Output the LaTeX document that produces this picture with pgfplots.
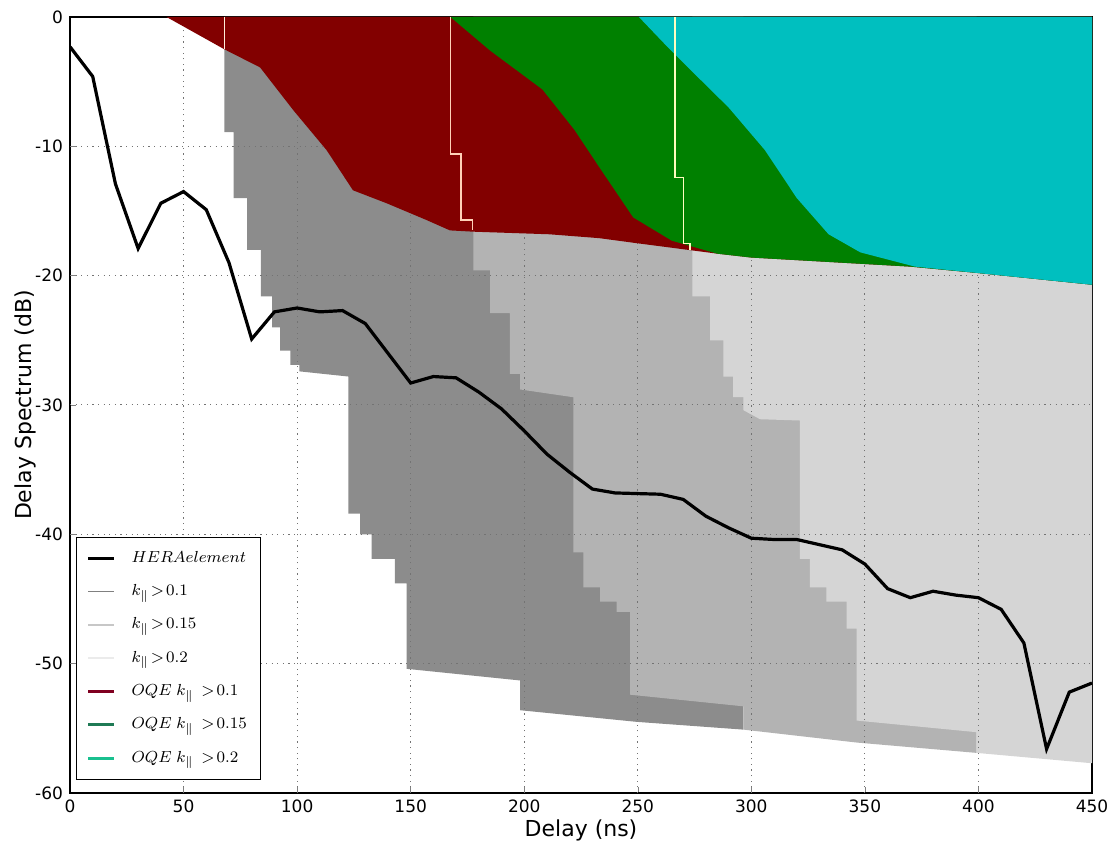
\documentclass[border=0pt]{standalone}
\usepackage{fontspec}
\setmainfont{DejaVu Sans}
\usepackage{pgfplots}
\pgfplotsset{compat=1.18}
\definecolor{gdark}{HTML}{8C8C8C}
\definecolor{gmid}{HTML}{B3B3B3}
\definecolor{glight}{HTML}{D5D5D5}
\definecolor{oqered}{HTML}{820000}
\definecolor{oqegreen}{HTML}{008000}
\definecolor{oqecyan}{HTML}{00BFBF}
\definecolor{legred}{HTML}{800020}
\definecolor{leggreen}{HTML}{1F7A55}
\definecolor{legcyan}{HTML}{19C08F}
\begin{document}
\begin{tikzpicture}
\begin{axis}[
  name=ax,
  width=511pt, height=388pt, scale only axis,
  xmin=0, xmax=450, ymin=-60, ymax=0,
  xtick={0,50,100,150,200,250,300,350,400,450},
  xticklabels={0,50,100,150,200,250,300,350,400,450},
  ytick={-60,-50,-40,-30,-20,-10,0},
  yticklabels={-60,-50,-40,-30,-20,-10,0},
  tick label style={font=\fontsize{8.5}{10}\selectfont},
  tick align=inside, major tick length=3pt,
  axis line style={line width=0.8pt},
  xlabel={Delay (ns)}, ylabel={Delay Spectrum (dB)},
  label style={font=\fontsize{11}{13}\selectfont},
  xlabel style={at={(axis description cs:0.5,-0.0477)}, anchor=center},
  ylabel style={at={(axis description cs:-0.044,0.5)}, anchor=center},
  legend style={at={(axis description cs:0.006,0.017)}, anchor=south west,
    draw=black, line width=0.6pt, fill=white,
    font=\fontsize{8.5}{10}\selectfont, row sep=5.6pt, inner xsep=5pt, inner ysep=5pt,
    /tikz/every odd column/.append style={column sep=6pt}},
  legend cell align=left,
  legend image code/.code={\draw[#1] (0cm,0cm) -- (0.45cm,0cm);},
]
% legend entries
\addlegendimage{black, line width=1.6pt}
\addlegendentry{$HERA element$}
\addlegendimage{gray, line width=0.8pt}
\addlegendentry{$k_{\parallel}\!>\!0.1$}
\addlegendimage{black!22, line width=0.8pt}
\addlegendentry{$k_{\parallel}\!>\!0.15$}
\addlegendimage{black!8, line width=0.8pt}
\addlegendentry{$k_{\parallel}\!>\!0.2$}
\addlegendimage{legred, line width=1.6pt}
\addlegendentry{$OQE\;k_{\parallel}\,>\!0.1$}
\addlegendimage{leggreen, line width=1.6pt}
\addlegendentry{$OQE\;k_{\parallel}\,>\!0.15$}
\addlegendimage{legcyan, line width=1.6pt}
\addlegendentry{$OQE\;k_{\parallel}\,>\!0.2$}

% gray regions k>0.1
\addplot[forget plot, fill=gdark, draw=none] coordinates {
 (68,0) (68,-8.9) (72,-8.9) (72,-14) (78,-14) (78,-18) (84,-18) (84,-21.6)
 (89,-21.6) (89,-24) (92.5,-24) (92.5,-25.8) (97,-25.8) (97,-26.9) (101,-26.9)
 (101,-27.4) (122.6,-27.8) (122.6,-38.4) (127.7,-38.4) (127.7,-40) (132.8,-40)
 (132.8,-41.9) (143,-41.9) (143,-43.8) (148.2,-43.8) (148.2,-50.4) (198.2,-51.3)
 (198.2,-53.6) (249.5,-54.5) (296.5,-55.1) (296.5,0)} -- cycle;
% k>0.15
\addplot[forget plot, fill=gmid, draw=none] coordinates {
 (177.6,0) (177.6,-19.6) (185,-19.6) (185,-22.9) (193.7,-22.9) (193.7,-27.6)
 (198.2,-27.6) (198.2,-28.8) (221.6,-29.4) (221.6,-41.4) (226,-41.4) (226,-44.1)
 (233.4,-44.1) (233.4,-45.2) (240.7,-45.2) (240.7,-46) (246.6,-46) (246.6,-52.4)
 (296.5,-53.3) (296.5,-55.1) (346.4,-56.1) (399.2,-56.9) (399.2,0)} -- cycle;
% k>0.2
\addplot[forget plot, fill=glight, draw=none] coordinates {
 (274,0) (274,-21.6) (281.8,-21.6) (281.8,-25) (287.7,-25) (287.7,-27.8)
 (292,-27.8) (292,-29.4) (296.5,-29.4) (296.5,-30.4) (303.8,-31.1) (321.4,-31.2)
 (321.4,-41.9) (325.8,-41.9) (325.8,-44.1) (333,-44.1) (333,-45.2) (342,-45.2)
 (342,-47.3) (346.4,-47.3) (346.4,-54.4) (399.2,-55.3) (399.2,-56.9) (450,-57.7)
 (450,0)} -- cycle;

% grid
\addplot[forget plot, black!55, line width=0.5pt, dash pattern=on 0.6pt off 2.2pt, unbounded coords=jump] coordinates {
 (50,-60) (50,0) (nan,nan) (100,-60) (100,0) (nan,nan) (150,-60) (150,0) (nan,nan)
 (200,-60) (200,0) (nan,nan) (250,-60) (250,0) (nan,nan) (300,-60) (300,0) (nan,nan)
 (350,-60) (350,0) (nan,nan) (400,-60) (400,0) (nan,nan)
 (0,-10) (450,-10) (nan,nan) (0,-20) (450,-20) (nan,nan) (0,-30) (450,-30) (nan,nan)
 (0,-40) (450,-40) (nan,nan) (0,-50) (450,-50)};

% OQE k>0.1
\addplot[forget plot, fill=oqered, draw=none] coordinates {
 (42.5,0) (68,-2.5) (83.7,-3.9) (98.3,-7.2) (113,-10.3) (124.6,-13.4) (139.4,-14.4)
 (157,-15.7) (167.3,-16.5) (177.5,-16.6) (211,-16.8) (233,-17.1) (250,-17.5)
 (285,-18.3) (300,-18.6) (340,-19.0) (370,-19.3) (400,-19.8) (450,-20.7) (450,0)} -- cycle;
% OQE k>0.15
\addplot[forget plot, fill=oqegreen, draw=none] coordinates {
 (167.5,0) (185,-2.6) (208,-5.6) (222,-8.7) (233,-11.6) (248,-15.5) (265,-17.3)
 (285,-18.3) (300,-18.6) (340,-19.0) (370,-19.3) (400,-19.8) (450,-20.7) (450,0)} -- cycle;
% OQE k>0.2
\addplot[forget plot, fill=oqecyan, draw=none] coordinates {
 (250.5,0) (263,-2.3) (275,-4.4) (290,-7) (306,-10.3) (320,-14) (334,-16.8)
 (348,-18.2) (372,-19.3) (400,-19.8) (450,-20.7) (450,0)} -- cycle;

% thin edge lines
\addplot[forget plot, color=white!85!orange, line width=0.6pt] coordinates {(68,0) (68,-2.5)};
\addplot[forget plot, color=white!80!red!90!yellow, line width=0.6pt] coordinates {
 (167.4,0) (167.4,-10.6) (172.2,-10.6) (172.2,-15.7) (177.2,-15.7) (177.2,-16.5)};
\addplot[forget plot, color=white!75!yellow, line width=0.6pt] coordinates {
 (266.4,0) (266.4,-12.4) (270.2,-12.4) (270.2,-17.5) (273,-17.5) (273,-18)};

% HERA element
\addplot[forget plot, black, line width=1.6pt] coordinates {
 (0,-2.3) (10,-4.6) (20,-12.9) (30,-17.9) (40,-14.4) (50,-13.5) (60,-14.9)
 (70,-19.0) (80,-24.9) (90,-22.8) (100,-22.5) (110,-22.8) (120,-22.7) (130,-23.7)
 (140,-26.0) (150,-28.3) (160,-27.8) (170,-27.9) (180,-29.0) (190,-30.3)
 (200,-32.0) (210,-33.8) (220,-35.2) (230,-36.5) (240,-36.8) (250,-36.85)
 (260,-36.9) (270,-37.3) (280,-38.6) (290,-39.5) (300,-40.3) (310,-40.4)
 (320,-40.4) (330,-40.8) (340,-41.2) (350,-42.3) (360,-44.2) (370,-44.9)
 (380,-44.4) (390,-44.7) (400,-44.9) (410,-45.8) (420,-48.4) (430,-56.6)
 (440,-52.2) (450,-51.5)};
\end{axis}
\pgfresetboundingbox
\path ([xshift=-35pt,yshift=-32.5pt]ax.south west) rectangle ([xshift=9pt,yshift=8.5pt]ax.north east);
\end{tikzpicture}
\end{document}
